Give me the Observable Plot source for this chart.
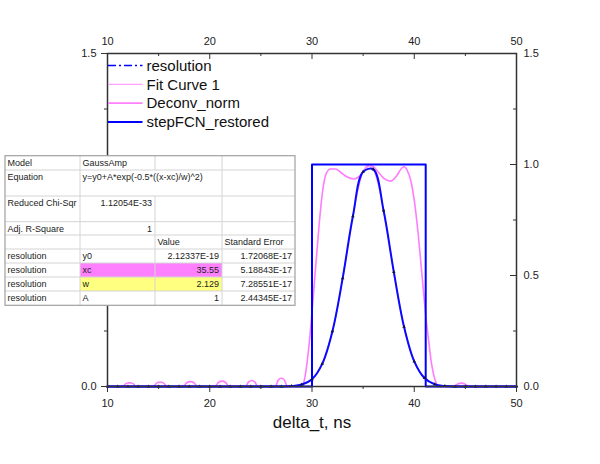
<!DOCTYPE html>
<html><head><meta charset="utf-8">
<script src="https://cdn.jsdelivr.net/npm/d3@7"></script>
<script src="https://cdn.jsdelivr.net/npm/@observablehq/plot@0.6"></script>
<style>
body{margin:0;background:#fff}
#chart{position:relative;width:600px;height:464px}
</style>
</head><body><div id="chart"></div>
<script>
// ---- data ----
const resX = [10,11,12,13,14,15,16,17,18,19,20,21,22,23,24,25,26,27,28,29,30,31,32,33,34,35,36,37,38,39,40,41,42,43,44,45,46,47,48,49,50];
const resY = [0,0,0,0,0,0,0,0,0,0,0,0,0,0,0,0,0,0,0.002,0.009,0.033,0.102,0.249,0.488,0.767,0.967,0.978,0.793,0.516,0.269,0.113,0.038,0.010,0.002,0,0,0,0,0,0,0];

const fitX = [10,26,27,27.5,28,28.5,29,29.5,30,30.5,31,31.5,32,32.5,33,33.5,34,34.5,35,35.5,36,36.5,37,37.5,38,38.5,39,39.5,40,40.5,41,41.5,42,42.5,43,43.5,44,45,50];
const fitY = [0,0,0.0003,0.0008,0.0019,0.0042,0.0088,0.0176,0.0334,0.060,0.102,0.164,0.249,0.358,0.488,0.629,0.767,0.885,0.967,1.000,0.978,0.905,0.793,0.657,0.516,0.383,0.269,0.179,0.113,0.067,0.038,0.020,0.010,0.005,0.002,0.001,0.0003,0,0];

const deconvX = [10,11.5,11.8,12.15,12.5,12.8,14.5,14.8,15.15,15.5,15.8,17.4,17.75,18.1,18.45,18.8,20.5,20.85,21.2,21.55,21.9,23.5,23.8,24.1,24.4,24.7,26.4,26.7,27.0,27.3,27.6,
  29.0,29.3,29.6,29.9,30.2,30.5,30.8,31.1,31.4,31.8,32.3,32.8,33.4,34.1,34.7,35.2,35.6,36.0,36.5,37.1,37.7,38.3,38.7,39.0,39.3,39.7,40.0,40.4,40.8,41.1,41.4,41.7,42.0,42.2,42.4,
  43.9,44.25,44.6,44.95,45.35,50];
const deconvY = [0,0,0.013,0.017,0.013,0,0,0.015,0.020,0.015,0,0,0.017,0.022,0.017,0,0,0.018,0.024,0.018,0,0,0.021,0.027,0.021,0,0,0.029,0.037,0.029,0,
  0,0.04,0.14,0.28,0.45,0.62,0.78,0.90,0.96,0.98,0.98,0.965,0.945,0.935,0.95,0.98,0.995,0.99,0.965,0.935,0.925,0.95,0.98,0.99,0.975,0.92,0.84,0.68,0.48,0.33,0.21,0.10,0.035,0.01,0,
  0,0.011,0.015,0.011,0,0];

const stepX = [10,30,30,41.12,41.12,50];
const stepY = [0,0,1,1,0,0];

const xMajor = [10,20,30,40,50];
const xMinor = [15,25,35,45];
const yMajor = [0,0.5,1,1.5];
const yMinor = [0.25,0.75,1.25];

const legendNames = ["resolution","Fit Curve 1","Deconv_norm","stepFCN_restored"];
const legendColors = ["#0000ff","#ffa0ff","#ff80ff","#0000ff"];
const legendWidths = [1.6,1.2,1.6,2];
const legendDash = ["8,3,2,3",null,null,null];

const tableRows = [
  ["Model","GaussAmp","",""],
  ["Equation","y=y0+A*exp(-0.5*((x-xc)/w)^2)","",""],
  ["Reduced Chi-Sqr","1.12054E-33","",""],
  ["Adj. R-Square","1","",""],
  ["","","Value","Standard Error"],
  ["resolution","y0","2.12337E-19","1.72068E-17"],
  ["resolution","xc","35.55","5.18843E-17"],
  ["resolution","w","2.129","7.28551E-17"],
  ["resolution","A","1","2.44345E-17"]
];
const rowHeights = [14.3,26,25.7,13.3,14,14,14,14,14.3];
const colWidths = [75,75,67,73];
const rowFills = [null,null,null,null,null,null,"#ff80ff","#ffff80",null];

// ---- build ----
const font = "Arial, 'Liberation Sans', sans-serif";
const toPts = (xs, ys) => xs.map((x, i) => ({x, y: ys[i]}));
const res = toPts(resX, resY), fit = toPts(fitX, fitY), dec = toPts(deconvX, deconvY), step = toPts(stepX, stepY);

const plot = Plot.plot({
  width: 600, height: 464,
  marginLeft: 107, marginRight: 84, marginTop: 53, marginBottom: 78,
  x: {domain: [10, 50]},
  y: {domain: [0, 1.5]},
  style: {fontFamily: font, fontSize: "11px", background: "#fff", color: "#222"},
  marks: [
    Plot.line(dec, {x: "x", y: "y", stroke: "#ff7cff", strokeWidth: 1.6, curve: "monotone-x"}),
    Plot.line(fit, {x: "x", y: "y", stroke: "#ff9cff", strokeWidth: 1.3, curve: "catmull-rom"}),
    Plot.line(step, {x: "x", y: "y", stroke: "#0000ff", strokeWidth: 2}),
    Plot.line(res, {x: "x", y: "y", stroke: "#0a0aff", strokeWidth: 2, curve: "catmull-rom"}),
    Plot.dot(res, {x: "x", y: "y", symbol: "triangle", r: 1.3, fill: "#14143c", stroke: "none"}),
    Plot.frame({stroke: "#333", strokeWidth: 1.5}),
    Plot.axisX({anchor: "bottom", ticks: xMajor, tickSize: 6, tickPadding: 7, fontSize: 11, label: null, stroke: "#333"}),
    Plot.axisX({anchor: "bottom", ticks: xMinor, tickSize: 3, tickFormat: () => "", label: null, stroke: "#333"}),
    Plot.axisY({anchor: "left", ticks: yMajor, tickSize: 6, tickPadding: 5, tickFormat: d3.format(".1f"), fontSize: 11, label: null, stroke: "#333"}),
    Plot.axisY({anchor: "left", ticks: yMinor, tickSize: 3, tickFormat: () => "", label: null, stroke: "#333"}),
    Plot.axisX({anchor: "top", ticks: xMajor, tickSize: 0, tickPadding: 9, fontSize: 11, label: null}),
    Plot.axisY({anchor: "right", ticks: yMajor, tickSize: 0, tickPadding: 7, tickFormat: d3.format(".1f"), fontSize: 11, label: null}),
    Plot.ruleX(xMajor, {x: d => d, y1: 1.5, y2: 1.5, insetBottom: -6, stroke: "#333"}),
    Plot.ruleX(xMinor, {x: d => d, y1: 1.5, y2: 1.5, insetBottom: -3, stroke: "#333"}),
    Plot.ruleY(yMajor, {y: d => d, x1: 50, x2: 50, insetLeft: -6, stroke: "#333"}),
    Plot.ruleY(yMinor, {y: d => d, x1: 50, x2: 50, insetLeft: -3, stroke: "#333"}),
    Plot.text(["delta_t, ns"], {text: d => d, frameAnchor: "bottom", dy: 41, fontSize: 17, fill: "#111"})
  ]
});
document.getElementById("chart").appendChild(plot);

const svg = d3.select(plot);

// legend
const lg = svg.append("g").attr("font-family", font).attr("font-size", 15).attr("fill", "#111").attr("text-anchor", "start");
legendNames.forEach((name, i) => {
  const y = 65.5 + i * 18.8;
  lg.append("line").attr("x1", 108).attr("x2", 142.5).attr("y1", y).attr("y2", y)
    .attr("stroke", legendColors[i]).attr("stroke-width", legendWidths[i])
    .attr("stroke-dasharray", legendDash[i]);
  lg.append("text").attr("x", 146.5).attr("y", y).attr("dy", "0.35em").attr("text-anchor", "start").text(name);
});

// fit table
const tx = 5, ty = 155.7;
const tg = svg.append("g").attr("font-family", font).attr("font-size", 9).attr("fill", "#222").attr("text-anchor", "start");
const totalW = d3.sum(colWidths), totalH = d3.sum(rowHeights);
tg.append("rect").attr("x", tx).attr("y", ty).attr("width", totalW).attr("height", totalH).attr("fill", "#fff");
const colX = [tx]; colWidths.forEach(w => colX.push(colX[colX.length - 1] + w));
let yy = ty;
tableRows.forEach((row, r) => {
  const h = rowHeights[r];
  if (rowFills[r]) tg.append("rect").attr("x", colX[1]).attr("y", yy).attr("width", colWidths[1] + colWidths[2]).attr("height", h).attr("fill", rowFills[r]);
  [1, 2, 3].forEach(c => {
    if (r === 1 && c === 2) return;
    tg.append("line").attr("x1", colX[c]).attr("x2", colX[c]).attr("y1", yy).attr("y2", yy + h).attr("stroke", "#d4d4d4").attr("stroke-width", 1);
  });
  if (r > 0) tg.append("line").attr("x1", tx).attr("x2", tx + totalW).attr("y1", yy).attr("y2", yy).attr("stroke", "#d4d4d4").attr("stroke-width", 1);
  row.forEach((t, c) => {
    if (!t) return;
    const numeric = /^[-0-9.E]+$/.test(t) && c > 0;
    const el = tg.append("text").attr("y", yy + 7).attr("dy", "0.35em").text(t);
    if (numeric) el.attr("x", colX[c + 1] - 3).attr("text-anchor", "end");
    else el.attr("x", colX[c] + 2.5).attr("text-anchor", "start");
  });
  yy += h;
});
tg.append("rect").attr("x", tx).attr("y", ty).attr("width", totalW).attr("height", totalH).attr("fill", "none").attr("stroke", "#a0a0a0").attr("stroke-width", 1.2);
</script>
</body></html>
